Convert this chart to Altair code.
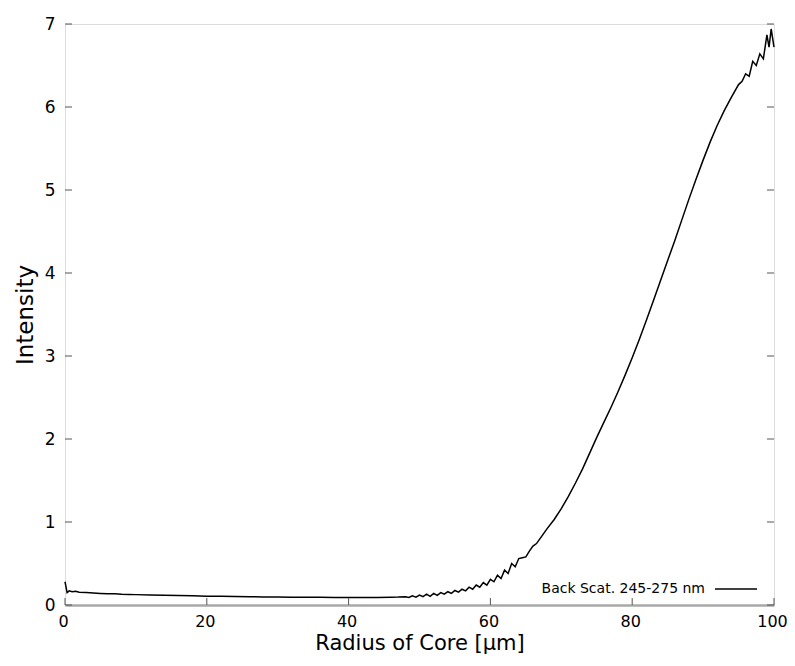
import altair as alt
import pandas as pd

# ---- data ----
radius = [0, 0.3, 0.6, 1, 1.5, 2, 3, 4, 5, 6, 7, 8, 9, 10, 12, 14, 16, 18, 20,
          22, 24, 26, 28, 30, 32, 34, 36, 38, 40, 42, 44, 46, 47,
          48, 48.5, 49, 49.5, 50, 50.5, 51, 51.5, 52, 52.5, 53, 53.5, 54, 54.5,
          55, 55.5, 56, 56.5, 57, 57.5, 58, 58.5, 59, 59.5, 60, 60.5, 61, 61.5,
          62, 62.5, 63, 63.5, 64, 64.5, 65, 65.5, 66, 66.5, 67,
          68, 69, 70, 71, 72, 73, 74, 75, 76, 77, 78, 79, 80, 81, 82, 83, 84,
          85, 86, 87, 88, 89, 90, 91, 92, 93, 94, 95, 95.5, 96, 96.5, 97, 97.5,
          98, 98.5, 99, 99.3, 99.6, 100]
intensity = [0.28, 0.15, 0.17, 0.16, 0.165, 0.155, 0.15, 0.145, 0.14, 0.135,
             0.137, 0.13, 0.128, 0.125, 0.12, 0.117, 0.113, 0.11, 0.106,
             0.104, 0.101, 0.099, 0.097, 0.095, 0.094, 0.093, 0.092, 0.091,
             0.09, 0.09, 0.091, 0.093, 0.095,
             0.10, 0.09, 0.11, 0.095, 0.12, 0.10, 0.13, 0.105, 0.14, 0.115,
             0.15, 0.13, 0.16, 0.14, 0.175, 0.155, 0.19, 0.17, 0.215, 0.19,
             0.24, 0.215, 0.27, 0.24, 0.31, 0.28, 0.36, 0.32, 0.42, 0.38,
             0.50, 0.46, 0.56, 0.57, 0.58, 0.65, 0.71, 0.74, 0.80,
             0.92, 1.03, 1.16, 1.31, 1.47, 1.64, 1.83, 2.02, 2.20, 2.38, 2.57,
             2.77, 2.98, 3.20, 3.43, 3.67, 3.91, 4.15, 4.39, 4.64, 4.89, 5.13,
             5.36, 5.58, 5.78, 5.96, 6.12, 6.27, 6.31, 6.40, 6.37, 6.55, 6.50,
             6.64, 6.58, 6.87, 6.72, 6.94, 6.72]
x_ticks = [0, 20, 40, 60, 80, 100]
y_ticks = [0, 1, 2, 3, 4, 5, 6, 7]
legend_label = ["Back Scat. 245-275 nm"]

W, H = 709, 581
FONT = "DejaVu Sans"
X_TITLE = "Radius of Core [µm]"
Y_TITLE = "Intensity"

df = pd.DataFrame({"r": radius, "i": intensity})
xt = pd.DataFrame({"r": x_ticks})
yt = pd.DataFrame({"i": y_ticks})
lg = pd.DataFrame({"label": legend_label})

xs = alt.Scale(domain=[0, 100], nice=False, zero=False)
ys = alt.Scale(domain=[0, 7], nice=False, zero=False)

x_axis = alt.Axis(values=x_ticks, ticks=False, domain=True,
                  domainColor="#a8a8a8", domainWidth=2.5,
                  labelFont=FONT, titleFont=FONT, labelFlush=False,
                  labelFontSize=16, labelOffset=-2, labelPadding=8,
                  titleFontSize=21, titleFontWeight="normal", titlePadding=3,
                  grid=False, labelColor="black", titleColor="black")
y_axis = alt.Axis(values=y_ticks, ticks=False, domain=False,
                  labelFont=FONT, titleFont=FONT, labelFlush=False,
                  labelFontSize=17, labelPadding=10, titleFontSize=23,
                  titleFontWeight="normal", titlePadding=7, grid=False,
                  labelColor="black", titleColor="black")

X = alt.X("r:Q", scale=xs, title=X_TITLE, axis=x_axis)
Y = alt.Y("i:Q", scale=ys, title=Y_TITLE, axis=y_axis)

line = alt.Chart(df).mark_line(color="black", strokeWidth=1.5).encode(x=X, y=Y)

tick_color = "#555555"
ytick_left = alt.Chart(yt).mark_rule(color=tick_color, strokeWidth=1).encode(
    y=Y, x=alt.value(0), x2=alt.value(7))
ytick_right = alt.Chart(yt).mark_rule(color=tick_color, strokeWidth=1).encode(
    y=Y, x=alt.value(W - 7), x2=alt.value(W))
xtick_bottom = alt.Chart(xt).mark_rule(color=tick_color, strokeWidth=1).encode(
    x=X, y=alt.value(H - 7), y2=alt.value(H))

legend_text = alt.Chart(lg).mark_text(
    align="right", baseline="middle", fontSize=14, font=FONT, color="black"
).encode(text="label:N", x=alt.value(W - 69), y=alt.value(H - 16))
legend_line = alt.Chart(lg).mark_rule(color="black", strokeWidth=1.5).encode(
    x=alt.value(W - 59), x2=alt.value(W - 17), y=alt.value(H - 16))

chart = alt.layer(
    line, ytick_left, ytick_right, xtick_bottom, legend_text, legend_line
).properties(
    width=W, height=H,
    autosize=alt.AutoSizeParams(type="none"),
    padding={"left": 57, "top": 16, "right": 13, "bottom": 53},
).configure_view(
    stroke="#444444", strokeWidth=1.5
).configure(background="white")

chart.save("out.html", embed_options={"renderer": "svg", "actions": False})
